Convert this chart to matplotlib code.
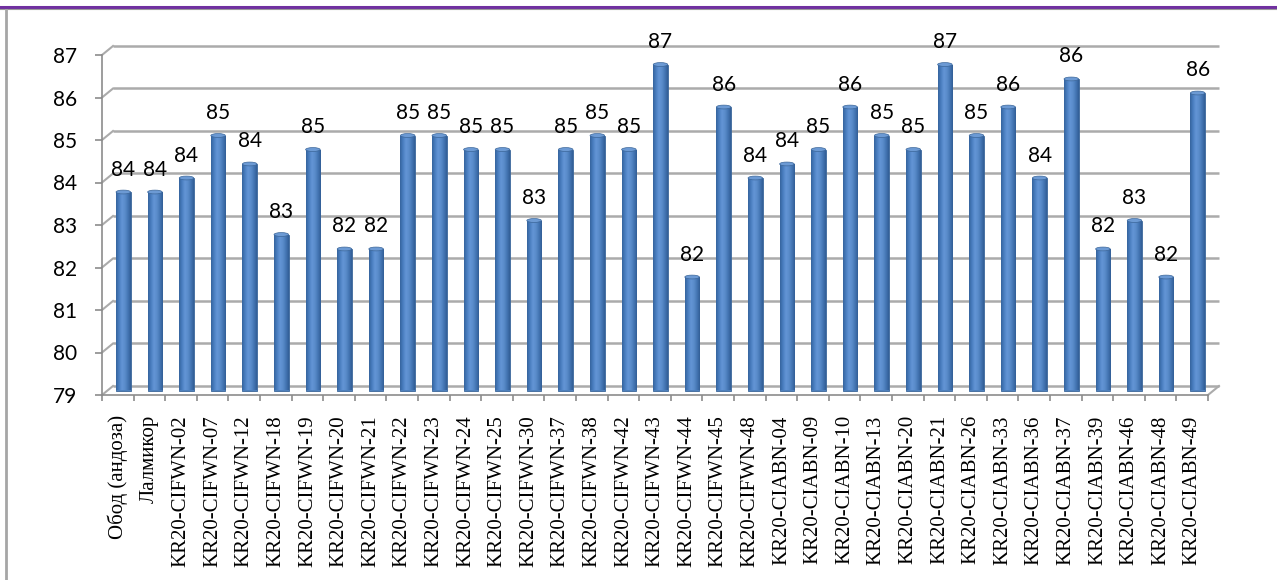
import numpy as np
import matplotlib
matplotlib.use("Agg")
import matplotlib.pyplot as plt
from matplotlib.transforms import ScaledTranslation
from matplotlib.colors import LinearSegmentedColormap
from matplotlib.lines import Line2D
from matplotlib.patches import Ellipse

categories = [
    "Обод (андоза)", "Лалмикор",
    "KR20-CIFWN-02", "KR20-CIFWN-07", "KR20-CIFWN-12", "KR20-CIFWN-18",
    "KR20-CIFWN-19", "KR20-CIFWN-20", "KR20-CIFWN-21", "KR20-CIFWN-22",
    "KR20-CIFWN-23", "KR20-CIFWN-24", "KR20-CIFWN-25", "KR20-CIFWN-30",
    "KR20-CIFWN-37", "KR20-CIFWN-38", "KR20-CIFWN-42", "KR20-CIFWN-43",
    "KR20-CIFWN-44", "KR20-CIFWN-45", "KR20-CIFWN-48",
    "KR20-CIABN-04", "KR20-CIABN-09", "KR20-CIABN-10", "KR20-CIABN-13",
    "KR20-CIABN-20", "KR20-CIABN-21", "KR20-CIABN-26", "KR20-CIABN-33",
    "KR20-CIABN-36", "KR20-CIABN-37", "KR20-CIABN-39", "KR20-CIABN-46",
    "KR20-CIABN-48", "KR20-CIABN-49",
]
values = [
    83.67, 83.67,
    84.00, 85.00, 84.33, 82.67, 84.67, 82.33, 82.33, 85.00,
    85.00, 84.67, 84.67, 83.00, 84.67, 85.00, 84.67, 86.67,
    81.67, 85.67, 84.00,
    84.33, 84.67, 85.67, 85.00, 84.67, 86.67, 85.00, 85.67,
    84.00, 86.33, 82.33, 83.00, 81.67, 86.00,
]
y_ticks = [79, 80, 81, 82, 83, 84, 85, 86, 87]

W, H, DPI = 1277, 580, 100
fig = plt.figure(figsize=(W / DPI, H / DPI), dpi=DPI)
fig.patch.set_facecolor("white")

# front plane of the plot box, in pixels
px_left, px_right = 102, 1208
px_bottom, px_top = 395, 55
ax = fig.add_axes([px_left / W, 1 - px_bottom / H,
                   (px_right - px_left) / W, (px_bottom - px_top) / H])
ax.set_facecolor("none")

n = len(categories)
ymin, ymax = y_ticks[0], y_ticks[-1]

# depth of the pseudo-3D box (pixels -> data units)
depth_px = (11, 9)
ddx = depth_px[0] / ((px_right - px_left) / n)
ddy = depth_px[1] / ((px_bottom - px_top) / (ymax - ymin))

grid_col = "#ABABAB"
for v in y_ticks:
    ax.plot([ddx, n + ddx], [v + ddy, v + ddy], color=grid_col, lw=1.8,
            clip_on=False, zorder=0.5, solid_capstyle="butt")
    ax.plot([0, ddx], [v, v + ddy], color=grid_col, lw=1.5,
            clip_on=False, zorder=0.5)
ax.plot([n, n + ddx], [ymin, ymin + ddy], color=grid_col, lw=1.5,
        clip_on=False, zorder=0.5)

# columns, set half-way into the box depth
shift = ScaledTranslation(depth_px[0] / 2 / DPI, depth_px[1] / 2 / DPI,
                          fig.dpi_scale_trans)
bar_tr = ax.transData + shift
centers = np.arange(n) + 0.5
bar_w = 0.46
heights = np.array(values) - ymin
bars = ax.bar(centers, heights, bottom=ymin, width=bar_w, color="#4F81BD",
              edgecolor="#3B6699", linewidth=0.6, transform=bar_tr, zorder=2)

cmap = LinearSegmentedColormap.from_list(
    "col", ["#35649E", "#4A7EC0", "#6395D6", "#5A8CCB", "#4577B5", "#325E96"])
grad = np.linspace(0, 1, 64).reshape(1, -1)
for rect, cx, v in zip(bars, centers, values):
    im = ax.imshow(grad, extent=(cx - bar_w / 2, cx + bar_w / 2, ymin, v),
                   aspect="auto", cmap=cmap, transform=bar_tr, zorder=2.1,
                   interpolation="bilinear")
    im.set_clip_path(rect)
    cap = Ellipse((cx, v), bar_w, 0.09, facecolor="#6C9AD4",
                  edgecolor="#3B6699", lw=0.5, transform=bar_tr, zorder=2.2)
    ax.add_patch(cap)
    ax.annotate(f"{v:.0f}", (cx, v), xytext=(0, 9), textcoords="offset points",
                ha="center", va="bottom", fontsize=15, family="Lato",
                color="black", xycoords=bar_tr, annotation_clip=False)

ax.set_xlim(0, n)
ax.set_ylim(ymin, ymax)

for side in ("top", "right"):
    ax.spines[side].set_visible(False)
for side in ("left", "bottom"):
    ax.spines[side].set_color("#8C8C8C")
    ax.spines[side].set_linewidth(1.2)

ax.set_yticks(y_ticks)
ax.set_yticklabels([str(t) for t in y_ticks], fontsize=15, family="Lato")
ax.tick_params(axis="y", direction="out", length=5, width=1.2,
               color="#8C8C8C", pad=13)

ax.set_xticks(np.arange(n + 1))
ax.set_xticklabels([])
ax.tick_params(axis="x", which="major", direction="out", length=4.5,
               width=1.2, color="#8C8C8C")
ax.set_xticks(centers, minor=True)
ax.set_xticklabels(categories, minor=True, rotation=90, fontsize=15,
                   family="Liberation Serif", va="top", ha="center")
ax.tick_params(axis="x", which="minor", length=0, pad=14.5)

# outer frame
fig.add_artist(Line2D([0, 1], [1 - 6.5 / H] * 2, color="#7030A0", lw=2.2))
fig.add_artist(Line2D([0, 1], [1 - 9 / H] * 2, color="#9A9A9A", lw=0.8))
fig.add_artist(Line2D([5.5 / W] * 2, [0, 1 - 10 / H], color="#A6A6A6", lw=2))

fig.savefig("out.png", dpi=DPI)
